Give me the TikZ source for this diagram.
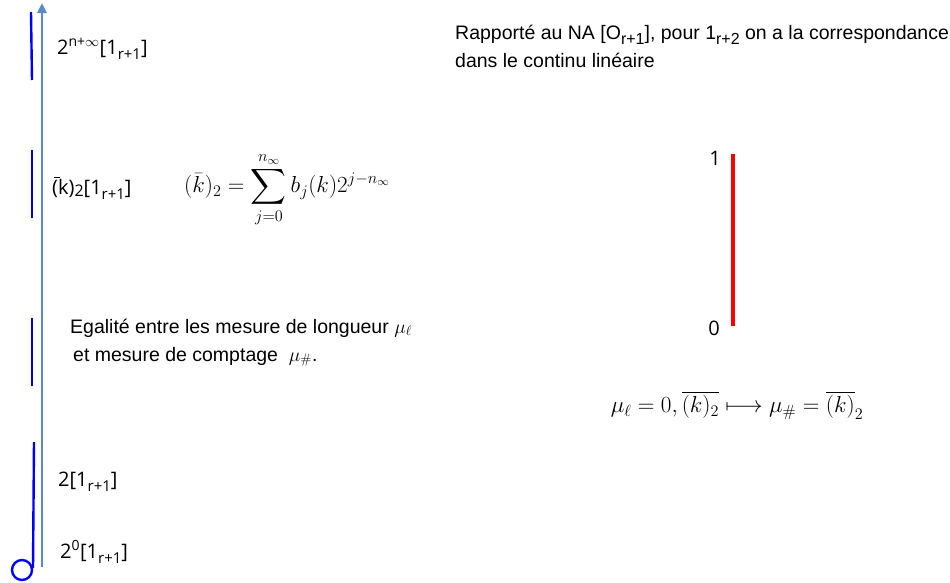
\RequirePackage{fix-cm}
\documentclass[tikz,border=0pt]{standalone}
\usepackage[no-math]{fontspec}
\usepackage{amsmath}
\setmainfont{Liberation Sans}
\newfontfamily\labfont{Open Sans}
\usetikzlibrary{arrows.meta}

\definecolor{axisblue}{RGB}{88,138,204}
\newcommand{\rsub}[1]{\raisebox{-0.28em}{\fontsize{15}{15}\selectfont #1}}
\newcommand{\tsub}[1]{\raisebox{-0.55ex}{\fontsize{16}{16}\selectfont #1}}

\tikzset{
  seg/.style={blue, line width=2.4pt},
  lab/.style={anchor=base west, inner sep=0pt, font=\labfont\fontsize{20}{24}\selectfont},
  txt/.style={anchor=base west, inner sep=0pt, font=\fontsize{19.5}{23}\selectfont},
  fml/.style={inner sep=0pt, font=\fontsize{23.1}{28}\selectfont}
}

\begin{document}
\begin{tikzpicture}[x=1pt, y=-1pt]
\useasboundingbox (0,0) rectangle (950,582);

% axe vertical
\coordinate (bas) at (42,567);
\coordinate (haut) at (42,3);
\draw[axisblue, line width=2.8pt, -{Triangle[length=10pt, width=9pt]}] (bas) -- (haut);

% segments bleus
\draw[seg] (31,12) -- (32,80);
\draw[seg] (32,150) -- (32,218);
\draw[seg] (32,318) -- (32,386);
\draw[seg] (34,442) -- (33,568);
\draw[blue, line width=2.4pt] (22,570) circle (10);

% etiquettes de l'axe
\node[lab] (ninf) at (57,54) {2\textsuperscript{n+$\infty$}[1\rsub{r+1}]};
\node[lab] (kdeux) at (52,194) {\rlap{\hspace{0.08em}\rule[0.8em]{0.3em}{0.6pt}}(k)\raisebox{-0.1em}{\fontsize{16}{16}\selectfont 2}[1\rsub{r+1}]};
\node[lab] (deux) at (58,486) {2[1\rsub{r+1}]};
\node[lab] (zero) at (60,558) {2\textsuperscript{0}[1\rsub{r+1}]};

% formule
\node[fml] (somme) at (287,190) {$(\bar{k})_2=\displaystyle\sum_{j=0}^{n_\infty} b_j(k)2^{j-n_\infty}$};

% texte
\node[txt] (egal) at (70,333) {Egalit\'e entre les mesure de longueur $\mu_\ell$};
\node[txt] (compt) at (73,361) {et mesure de comptage \ $\mu_\#$.};
\node[txt] (rapp) at (455,39) {Rapport\'e au NA [O\tsub{r+1}], pour 1\tsub{r+2} on a la correspondance};
\node[txt] (cont) at (455,67) {dans le continu lin\'eaire};

% segment rouge
\coordinate (un) at (733,154);
\coordinate (nul) at (733,326);
\draw[red, line width=4pt] (un) -- (nul);
\node[fml, font=\labfont\fontsize{20}{24}\selectfont] (lun) at (715,158) {1};
\node[fml, font=\labfont\fontsize{20}{24}\selectfont] (lnul) at (714,328) {0};

\node[fml] (corr) at (737,405) {$\mu_\ell=0,\overline{(k)_2}\longmapsto\mu_\#=\overline{(k)}_2$};

\end{tikzpicture}
\end{document}
